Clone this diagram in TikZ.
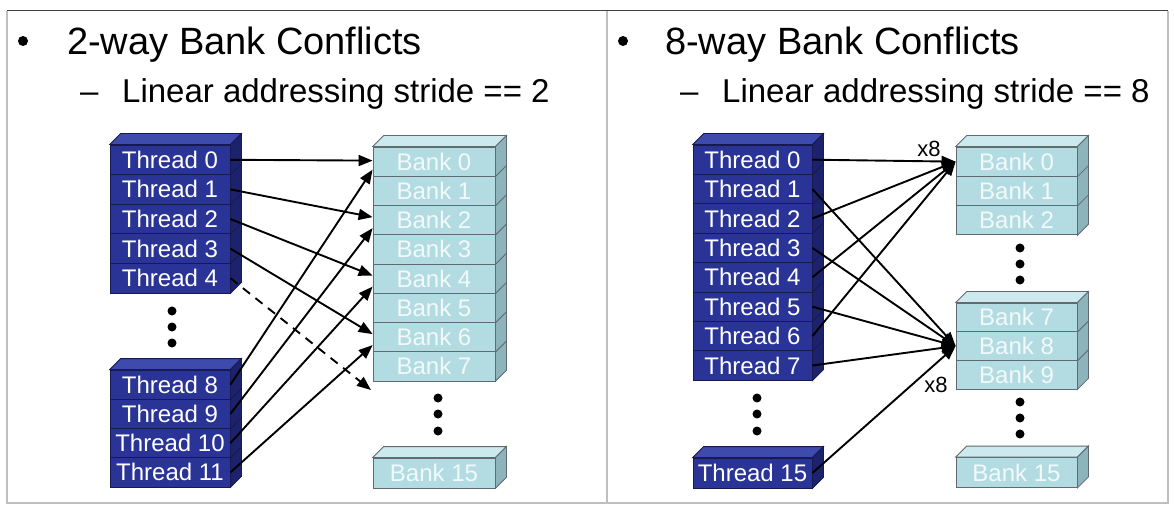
\documentclass[tikz,border=0pt]{standalone}
\usepackage{fontspec}
\setmainfont{Liberation Sans}
\usetikzlibrary{arrows.meta,calc}
\definecolor{thrF}{RGB}{42,52,150}
\definecolor{thrT}{RGB}{62,74,172}
\definecolor{thrS}{RGB}{28,34,108}
\definecolor{thrL}{RGB}{22,26,80}
\definecolor{bnkF}{RGB}{178,220,226}
\definecolor{bnkT}{RGB}{204,234,238}
\definecolor{bnkS}{RGB}{140,180,186}
\definecolor{bnkL}{RGB}{96,106,112}
\definecolor{bnkX}{RGB}{242,249,250}
\definecolor{frameG}{RGB}{190,190,190}
\newcommand{\stackfaces}[5]{%
  \filldraw[fill=#3,draw=#5,line width=0.8pt] (#1.north west) -- ++(11,-11) -- ($(#1.north east)+(11,-11)$) -- (#1.north east) -- cycle;
  \filldraw[fill=#4,draw=#5,line width=0.8pt] (#1.north east) -- ++(11,-11) -- ($(#2.south east)+(11,-11)$) -- (#2.south east) -- cycle;
}
\tikzset{
  thr/.style={rectangle, draw=thrL, fill=thrF, line width=0.8pt, text=white, minimum width=120pt, minimum height=29.4pt, inner sep=0pt, font=\fontsize{24}{24}\selectfont},
  bank/.style={rectangle, draw=bnkL, fill=bnkF, line width=0.8pt, text=bnkX, minimum width=122pt, minimum height=29.3pt, inner sep=0pt, font=\fontsize{24}{24}\selectfont},
  conn/.style={line width=1.9pt, -{Triangle[length=14pt,width=11pt]}},
  title/.style={anchor=base west, inner sep=0pt, font=\fontsize{38}{40}\selectfont},
  subtitle/.style={anchor=base west, inner sep=0pt, font=\fontsize{33}{35}\selectfont},
  lbl/.style={inner sep=0pt, font=\fontsize{22}{23}\selectfont},
}
\begin{document}
\begin{tikzpicture}[x=1pt,y=-1pt]
\useasboundingbox (0,0) rectangle (1174,510);
% frame
\draw[frameG,line width=1.5pt] (7,11) -- (7,503) -- (1168,503) -- (1168,11);
\draw[frameG,line width=1.5pt] (607,11) -- (607,503);
\draw[black!75,line width=1pt] (7,11) -- (1168,11);
% titles
\fill (23,41) circle (5);
\node[title] (t1) at (67,55) {2-way Bank Conflicts};
\node[subtitle] (d1) at (80,103) {–};
\node[subtitle] (s1) at (122,103) {Linear addressing stride == 2};
\fill (623,41) circle (5);
\node[title] (t2) at (665,55) {8-way Bank Conflicts};
\node[subtitle] (d2) at (680,103) {–};
\node[subtitle] (s2) at (722,103) {Linear addressing stride == 8};

% ---------- left panel ----------
\foreach \i in {0,...,4} \node[thr, minimum height=29.6pt] (lt\i) at (170,{145+29.6*(\i+0.5)}) {Thread \i};
\stackfaces{lt0}{lt4}{thrT}{thrS}{thrL}
\foreach \n in {lt0,lt1,lt2,lt3} \draw[thrL,line width=0.8pt] (\n.south east) -- ++(11,-11);
\foreach \i in {8,...,11} \node[thr, minimum height=29.25pt] (lt\i) at (170,{370+29.25*(\i-8+0.5)}) {Thread \i};
\stackfaces{lt8}{lt11}{thrT}{thrS}{thrL}
\foreach \n in {lt8,lt9,lt10} \draw[thrL,line width=0.8pt] (\n.south east) -- ++(11,-11);
\foreach \y in {311,327,343} \fill (172,\y) circle (4.5);

\foreach \i in {0,...,7} \node[bank, minimum height=29.25pt] (lb\i) at (434,{147+29.25*(\i+0.5)}) {Bank \i};
\stackfaces{lb0}{lb7}{bnkT}{bnkS}{bnkL}
\foreach \n in {lb0,lb1,lb2,lb3,lb4,lb5,lb6} \draw[bnkL,line width=0.8pt] (\n.south east) -- ++(11,-11);
\node[bank, minimum height=30pt] (lb15) at (434,473) {Bank 15};
\stackfaces{lb15}{lb15}{bnkT}{bnkS}{bnkL}
\foreach \y in {398,414,431} \fill (438,\y) circle (4.5);
\coordinate (lb8) at (371,390);

\draw[conn] (lt0.east) -- ([yshift=1pt]lb0.west);
\draw[conn] (lt1.east) -- ([yshift=3pt]lb2.west);
\draw[conn] (lt2.east) -- ([yshift=3pt]lb4.west);
\draw[conn] (lt3.east) -- ([yshift=3pt]lb6.west);
\draw[conn,dashed,dash pattern=on 9pt off 7pt] (lt4.east) -- (lb8);
\draw[conn] (lt8.east) -- ([yshift=-8pt]lb0.west);
\draw[conn] (lt9.east) -- ([yshift=-8pt]lb2.west);
\draw[conn] (lt10.east) -- ([yshift=-8pt]lb4.west);
\draw[conn] (lt11.east) -- ([yshift=-8pt]lb6.west);

% ---------- right panel ----------
\foreach \i in {0,...,7} \node[thr, minimum width=119pt] (rt\i) at (752.5,{145+29.4*(\i+0.5)}) {Thread \i};
\stackfaces{rt0}{rt7}{thrT}{thrS}{thrL}
\foreach \n in {rt0,rt1,rt2,rt3,rt4,rt5,rt6} \draw[thrL,line width=0.8pt] (\n.south east) -- ++(11,-11);
\node[thr, minimum width=119pt, minimum height=30pt] (rt15) at (752.5,473) {Thread 15};
\stackfaces{rt15}{rt15}{thrT}{thrS}{thrL}
\foreach \y in {398,414,431} \fill (757,\y) circle (4.5);

\foreach \i in {0,1,2} \node[bank, minimum width=121pt] (rb\i) at (1016.5,{147+29.3*(\i+0.5)}) {Bank \i};
\stackfaces{rb0}{rb2}{bnkT}{bnkS}{bnkL}
\foreach \n in {rb0,rb1} \draw[bnkL,line width=0.8pt] (\n.south east) -- ++(11,-11);
\foreach \i in {7,8,9} \node[bank, minimum width=121pt, minimum height=28.7pt] (rb\i) at (1016.5,{303+28.7*(\i-7+0.5)}) {Bank \i};
\stackfaces{rb7}{rb9}{bnkT}{bnkS}{bnkL}
\foreach \n in {rb7,rb8} \draw[bnkL,line width=0.8pt] (\n.south east) -- ++(11,-11);
\node[bank, minimum width=121pt, minimum height=30pt] (rb15) at (1016.5,472.5) {Bank 15};
\stackfaces{rb15}{rb15}{bnkT}{bnkS}{bnkL}
\foreach \y in {248,264,280} \fill (1020,\y) circle (4.5);
\foreach \y in {402,418,434} \fill (1020,\y) circle (4.5);

\foreach \i in {0,2,4,6} \draw[conn] (rt\i.east) -- (rb0.west);
\foreach \i in {1,3,5,7,15} \draw[conn] (rt\i.east) -- (rb8.west);
\node[lbl] (x8a) at (929,149) {x8};
\node[lbl] (x8b) at (936,385) {x8};
\end{tikzpicture}
\end{document}
